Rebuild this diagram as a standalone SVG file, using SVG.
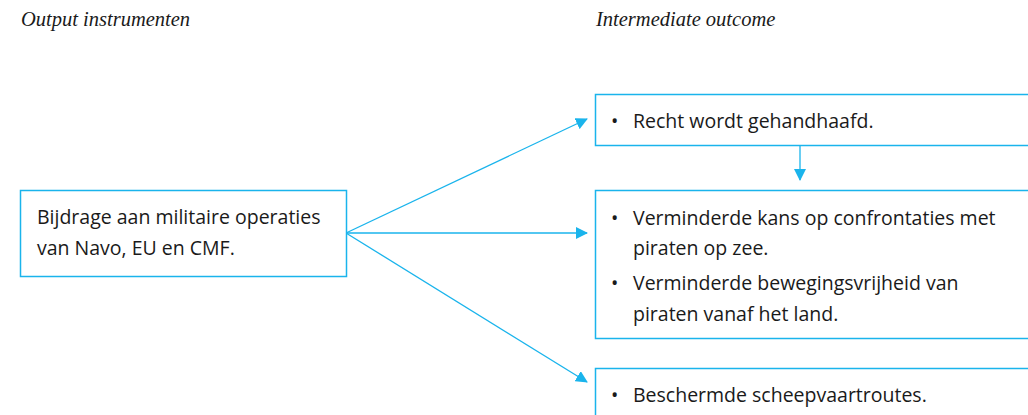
<svg xmlns="http://www.w3.org/2000/svg" width="1028" height="415" viewBox="0 0 1028 415">
<style>
.box{fill:#fff;stroke:#1ab4ec;stroke-width:1.5}
.t{font-family:"Open Sans","Noto Sans",sans-serif;font-size:19.5px;fill:#1a1a1a}
.h{font-family:"Liberation Serif",serif;font-style:italic;font-size:20.5px;fill:#1a1a1a}
.c{stroke:#1ab4ec;stroke-width:1.3;fill:none}
</style>
<defs>
<marker id="ah" markerWidth="12" markerHeight="12" refX="11" refY="6" orient="auto" markerUnits="userSpaceOnUse">
<path d="M0,0 L12,6 L0,12 Z" fill="#1ab4ec"/>
</marker>
</defs>
<rect width="1028" height="415" fill="#fff"/>
<text class="h" x="21" y="26">Output instrumenten</text>
<text class="h" x="596" y="26">Intermediate outcome</text>
<g id="connectors">
<line class="c" x1="346" y1="233" x2="587" y2="119" marker-end="url(#ah)"/>
<line class="c" x1="346" y1="233" x2="587" y2="233" marker-end="url(#ah)"/>
<line class="c" x1="346" y1="233" x2="587" y2="382" marker-end="url(#ah)"/>
<line class="c" x1="800" y1="145" x2="800" y2="180" marker-end="url(#ah)"/>
</g>
<g id="node-input">
<rect class="box" x="20.5" y="190.5" width="326" height="86"/>
<text class="t" x="37" y="224">Bijdrage aan militaire operaties</text>
<text class="t" x="37" y="255">van Navo, EU en CMF.</text>
</g>
<g id="node-recht">
<rect class="box" x="595.5" y="94.5" width="440" height="51"/>
<text class="t" x="611" y="128">•</text>
<text class="t" x="633" y="128">Recht wordt gehandhaafd.</text>
</g>
<g id="node-verminderd">
<rect class="box" x="595.5" y="190.5" width="440" height="148"/>
<text class="t" x="611" y="225">•</text>
<text class="t" x="633" y="225">Verminderde kans op confrontaties met</text>
<text class="t" x="633" y="255">piraten op zee.</text>
<text class="t" x="611" y="290">•</text>
<text class="t" x="633" y="290">Verminderde bewegingsvrijheid van</text>
<text class="t" x="633" y="321">piraten vanaf het land.</text>
</g>
<g id="node-scheepvaart">
<rect class="box" x="595.5" y="368.5" width="440" height="60"/>
<text class="t" x="611" y="402">•</text>
<text class="t" x="633" y="402">Beschermde scheepvaartroutes.</text>
</g>
</svg>
